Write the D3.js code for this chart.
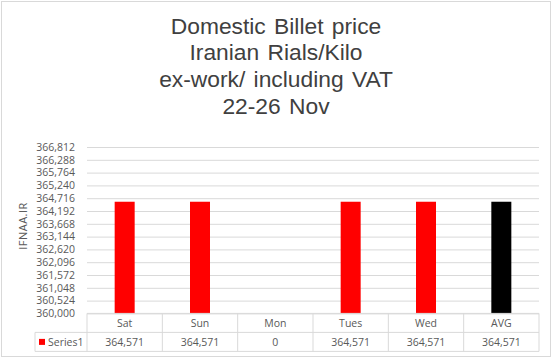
<!DOCTYPE html>
<html lang="en">
<head>
    <meta charset="UTF-8">
    <title>Domestic Billet price</title>
    <script src="https://d3js.org/d3.v7.min.js"></script>
    <style>
        body{ margin:0; background-color:white; }
        svg{ display:block; }
        text{ font-family:"Open Sans", sans-serif; fill:#595959; }
        .title{ font-family:"Liberation Sans", Arial, sans-serif; fill:#404040; }
    </style>
</head>
<body>
    <script>
        const days = ["Sat","Sun","Mon","Tues","Wed","AVG"];
        const prices = [364571,364571,0,364571,364571,364571];
        const barColors = ["#ff0000","#ff0000","#ff0000","#ff0000","#ff0000","#000000"];
        const tickLabels = [360000,360524,361048,361572,362096,362620,363144,363668,364192,364716,365240,365764,366288,366812];
        const titleLines = ["Domestic Billet price","Iranian Rials/Kilo","ex-work/ including VAT","22-26 Nov"];
        const seriesName = "Series1";

        const w = 553, h = 358;
        const margin = {left:87, right:14, top:147, bottom:44.6};
        const plotBottom = h - margin.bottom;

        const svg = d3.select("body").append("svg").attr("width",w).attr("height",h);

        // chart border
        svg.append("rect").attr("x",1.5).attr("y",1.5).attr("width",w-4).attr("height",h-3)
            .attr("fill","white").attr("stroke","#d9d9d9");

        // title
        svg.append("g").selectAll("text").data(titleLines).enter().append("text")
            .attr("class","title")
            .attr("x",276).attr("y",(d,i)=>33.5+i*26.7)
            .attr("text-anchor","middle").attr("font-size","22.8px")
            .attr("word-spacing","2px")
            .text(d=>d);

        const x = d3.scaleBand().domain(days).range([margin.left, w-margin.right]);
        const y = d3.scaleLinear().domain([tickLabels[0], tickLabels[tickLabels.length-1]])
            .range([plotBottom, margin.top]);

        // gridlines
        const yaxis = d3.axisLeft(y).tickValues(tickLabels).tickSize(-(w-margin.left-margin.right))
            .tickFormat(d3.format(","));
        const ga = svg.append("g").attr("transform","translate("+margin.left+",0)").call(yaxis);
        ga.select(".domain").remove();
        ga.selectAll("line").attr("stroke","#d9d9d9");
        ga.selectAll("text").attr("x",-12).attr("font-size","10.5px")
            .style("font-family","'Open Sans', sans-serif").attr("fill","#595959");

        // bars
        const barW = 20;
        svg.selectAll("rect.bar").data(prices).enter().append("rect")
            .attr("class","bar")
            .attr("x",(d,i)=>x(days[i])+x.bandwidth()/2-barW/2)
            .attr("width",barW)
            .attr("y",d=>d>=tickLabels[0]?y(d):plotBottom)
            .attr("height",d=>d>=tickLabels[0]?plotBottom-y(d):0)
            .attr("fill",(d,i)=>barColors[i]);

        // axis title
        svg.append("text").attr("transform","translate(27,226) rotate(-90)")
            .attr("text-anchor","middle").attr("font-size","11px").attr("letter-spacing","0.5px").text("IFNAA.IR");

        // data table
        const rowH = 19;
        const tableLeft = 35;
        const t = svg.append("g").attr("fill","none").attr("stroke","#d9d9d9");
        t.append("line").attr("x1",margin.left).attr("x2",w-margin.right).attr("y1",plotBottom).attr("y2",plotBottom);
        t.append("line").attr("x1",tableLeft).attr("x2",w-margin.right).attr("y1",plotBottom+rowH).attr("y2",plotBottom+rowH);
        t.append("line").attr("x1",tableLeft).attr("x2",w-margin.right).attr("y1",plotBottom+2*rowH).attr("y2",plotBottom+2*rowH);
        t.append("line").attr("x1",tableLeft).attr("x2",tableLeft).attr("y1",plotBottom+rowH).attr("y2",plotBottom+2*rowH);
        t.selectAll("line.col").data(days.concat(["end"])).enter().append("line")
            .attr("class","col")
            .attr("x1",(d,i)=>i<days.length?x(d):w-margin.right)
            .attr("x2",(d,i)=>i<days.length?x(d):w-margin.right)
            .attr("y1",plotBottom).attr("y2",plotBottom+2*rowH);

        svg.selectAll("text.cat").data(days).enter().append("text")
            .attr("class","cat").attr("x",d=>x(d)+x.bandwidth()/2).attr("y",plotBottom+14)
            .attr("text-anchor","middle").attr("font-size","10.5px").text(d=>d);
        svg.selectAll("text.val").data(prices).enter().append("text")
            .attr("class","val").attr("x",(d,i)=>x(days[i])+x.bandwidth()/2).attr("y",plotBottom+rowH+14)
            .attr("text-anchor","middle").attr("font-size","10.5px").text(d=>d3.format(",")(d));

        svg.append("rect").attr("x",39).attr("y",plotBottom+rowH+6.5).attr("width",6).attr("height",6).attr("fill","#ff0000");
        svg.append("text").attr("x",48).attr("y",plotBottom+rowH+14).attr("font-size","10.5px").text(seriesName);
    </script>
</body>
</html>
